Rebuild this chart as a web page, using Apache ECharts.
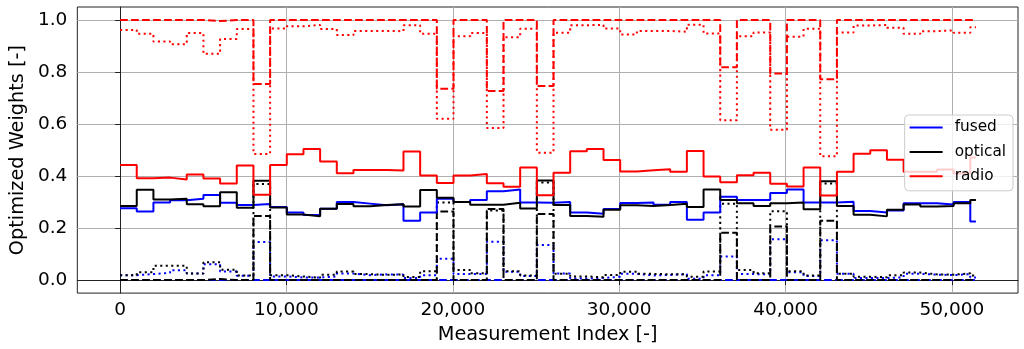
<!DOCTYPE html>
<html>
<head>
<meta charset="utf-8">
<script src="https://cdn.jsdelivr.net/npm/echarts@6/dist/echarts.min.js"></script>
<style>
html,body{margin:0;padding:0;background:#fff;}
#chart{width:1024px;height:349px;}
</style>
</head>
<body>
<div id="chart"></div>
<script>
// Window width (measurement indices per step) and last measurement index
const STEP = 1002;
const LAST_INDEX = 51440;
const xTicks = [0, 10000, 20000, 30000, 40000, 50000];
const yTicks = [0, 0.2, 0.4, 0.6, 0.8, 1.0];

// Solid lines (legend)
const fusedSolid = [0.276,0.264,0.298,0.307,0.313,0.327,0.297,0.289,0.293,0.281,0.260,0.250,0.274,0.300,0.294,0.288,0.292,0.228,0.260,0.313,0.300,0.308,0.342,0.348,0.298,0.297,0.300,0.260,0.255,0.273,0.296,0.298,0.290,0.300,0.232,0.260,0.320,0.308,0.308,0.335,0.348,0.298,0.298,0.301,0.266,0.260,0.268,0.295,0.295,0.291,0.300,0.225];
const opticalSolid = [0.285,0.347,0.310,0.313,0.292,0.284,0.338,0.278,0.382,0.279,0.252,0.245,0.274,0.293,0.284,0.289,0.292,0.283,0.346,0.317,0.300,0.290,0.290,0.297,0.275,0.383,0.289,0.246,0.244,0.270,0.288,0.285,0.289,0.294,0.281,0.348,0.308,0.295,0.285,0.295,0.298,0.272,0.380,0.285,0.251,0.245,0.270,0.291,0.283,0.285,0.295,0.308];
const radioSolid = [0.443,0.392,0.394,0.387,0.406,0.391,0.371,0.441,0.328,0.443,0.484,0.504,0.456,0.411,0.423,0.423,0.421,0.494,0.402,0.373,0.402,0.408,0.372,0.359,0.433,0.326,0.413,0.495,0.504,0.462,0.418,0.422,0.426,0.417,0.496,0.398,0.376,0.403,0.413,0.370,0.360,0.433,0.325,0.417,0.486,0.499,0.463,0.417,0.417,0.425,0.410,0.471];

// Dashed lines
const fusedDashed = [0,0,0,0,0,0,0,0,0,0,0,0,0,0,0,0,0,0,0,0,0,0,0,0,0,0,0,0,0,0,0,0,0,0,0,0,0,0,0,0,0,0,0,0,0,0,0,0,0,0,0,0];
const opticalDashed = [0,0,0,0,0,0.004,0,0,0.246,0,0,0,0,0,0,0,0,0,0,0.264,0,0,0.273,0,0,0.254,0,0,0,0,0,0,0,0,0,0,0.182,0,0,0.206,0,0,0.228,0,0,0,0,0,0,0,0,0];
const radioDashed = [1,1,1,1,1,0.996,1,1,0.754,1,1,1,1,1,1,1,1,1,1,0.736,1,1,0.727,1,1,0.746,1,1,1,1,1,1,1,1,1,1,0.818,1,1,0.794,1,1,0.772,1,1,1,1,1,1,1,1,1];

// Dotted lines
const fusedDotted = [0.019,0.023,0.028,0.038,0.025,0.061,0.033,0.017,0.146,0.014,0.010,0.010,0.014,0.025,0.019,0.022,0.021,0.008,0.019,0.082,0.023,0.024,0.147,0.032,0.016,0.135,0.025,0.006,0.008,0.013,0.024,0.018,0.020,0.023,0.005,0.019,0.091,0.023,0.022,0.157,0.030,0.016,0.153,0.024,0.008,0.008,0.011,0.024,0.021,0.019,0.023,0.010];
const opticalDotted = [0.019,0.030,0.055,0.055,0.025,0.069,0.040,0.018,0.369,0.019,0.014,0.009,0.021,0.033,0.023,0.020,0.022,0.012,0.034,0.298,0.039,0.026,0.268,0.034,0.018,0.375,0.024,0.014,0.011,0.020,0.032,0.024,0.022,0.022,0.013,0.033,0.294,0.039,0.026,0.265,0.034,0.018,0.371,0.024,0.013,0.011,0.019,0.029,0.022,0.021,0.026,0.018];
const radioDotted = [0.962,0.947,0.917,0.907,0.950,0.870,0.927,0.965,0.485,0.967,0.976,0.981,0.965,0.942,0.958,0.958,0.957,0.980,0.947,0.620,0.938,0.950,0.585,0.934,0.966,0.490,0.951,0.980,0.981,0.967,0.944,0.958,0.958,0.955,0.982,0.948,0.615,0.938,0.952,0.578,0.936,0.966,0.476,0.952,0.979,0.981,0.970,0.947,0.957,0.960,0.951,0.972];

function toSteps(vals) {
  const pts = vals.map((v, i) => [i * STEP, v]);
  pts.push([LAST_INDEX, vals[vals.length - 1]]);
  return pts;
}

const FONT = 'DejaVu Sans';
const TICK_FS = 18.5;
const NAME_FS = 19.3;
const LEG_FS = 15.3;
const DASH = [7.7, 3.3];
const DOT = [2.1, 3.4];

function mk(name, vals, color, type, width) {
  return {
    name: name,
    type: 'line',
    step: 'end',
    data: toSteps(vals),
    showSymbol: false,
    symbol: 'none',
    animation: false,
    lineStyle: { color: color, width: width, type: type, cap: 'butt' },
    itemStyle: { color: color },
    emphasis: { disabled: true }
  };
}

const chart = echarts.init(document.getElementById('chart'), null, { renderer: 'canvas' });
chart.setOption({
  animation: false,
  backgroundColor: '#ffffff',
  grid: {
    left: 77, right: 6, top: 7, bottom: 51,
    show: true, borderColor: '#222', borderWidth: 1, backgroundColor: 'transparent'
  },
  legend: {
    data: ['fused', 'optical', 'radio'],
    orient: 'vertical',
    right: 11, top: 115,
    icon: 'rect',
    itemWidth: 33, itemHeight: 2, itemGap: 7.4,
    padding: [4, 7, 6, 5],
    backgroundColor: 'rgba(255,255,255,0.8)',
    borderColor: '#cccccc', borderWidth: 1, borderRadius: 4,
    textStyle: { fontFamily: FONT, fontSize: LEG_FS, color: '#000', lineHeight: 17, padding: [0, 0, 0, 7] }
  },
  xAxis: {
    type: 'value',
    min: -2570, max: 53970,
    name: 'Measurement Index [-]',
    nameLocation: 'middle', nameGap: 30,
    nameTextStyle: { fontFamily: FONT, fontSize: NAME_FS, color: '#000' },
    axisLine: { show: true, lineStyle: { color: '#222', width: 1 } },
    axisTick: { show: true, inside: false, length: 5, lineStyle: { color: '#222' }, customValues: xTicks },
    axisLabel: {
      fontFamily: FONT, fontSize: TICK_FS, color: '#000', margin: 8,
      customValues: xTicks,
      formatter: v => Math.round(v).toLocaleString('en-US')
    },
    splitLine: { show: true, lineStyle: { color: '#b0b0b0', width: 1 } }
  },
  yAxis: {
    type: 'value',
    min: -0.05, max: 1.05,
    name: 'Optimized Weights [-]',
    nameLocation: 'middle', nameGap: 39,
    nameTextStyle: { fontFamily: FONT, fontSize: NAME_FS, color: '#000' },
    axisLine: { show: true, lineStyle: { color: '#222', width: 1 } },
    axisTick: { show: true, inside: false, length: 5, lineStyle: { color: '#222' }, customValues: yTicks },
    axisLabel: {
      fontFamily: FONT, fontSize: TICK_FS, color: '#000', margin: 10,
      customValues: yTicks,
      formatter: v => v.toFixed(1)
    },
    splitLine: { show: true, lineStyle: { color: '#b0b0b0', width: 1 } }
  },
  series: [
    mk('fused dotted', fusedDotted, '#0000ff', DOT, 2),
    mk('optical dotted', opticalDotted, '#000000', DOT, 2),
    mk('radio dotted', radioDotted, '#ff0000', DOT, 2),
    mk('fused dashed', fusedDashed, '#0000ff', DASH, 2),
    mk('optical dashed', opticalDashed, '#000000', DASH, 2),
    mk('radio dashed', radioDashed, '#ff0000', DASH, 2),
    mk('fused', fusedSolid, '#0000ff', 'solid', 2),
    mk('optical', opticalSolid, '#000000', 'solid', 2),
    mk('radio', radioSolid, '#ff0000', 'solid', 2)
  ]
});
</script>
</body>
</html>
